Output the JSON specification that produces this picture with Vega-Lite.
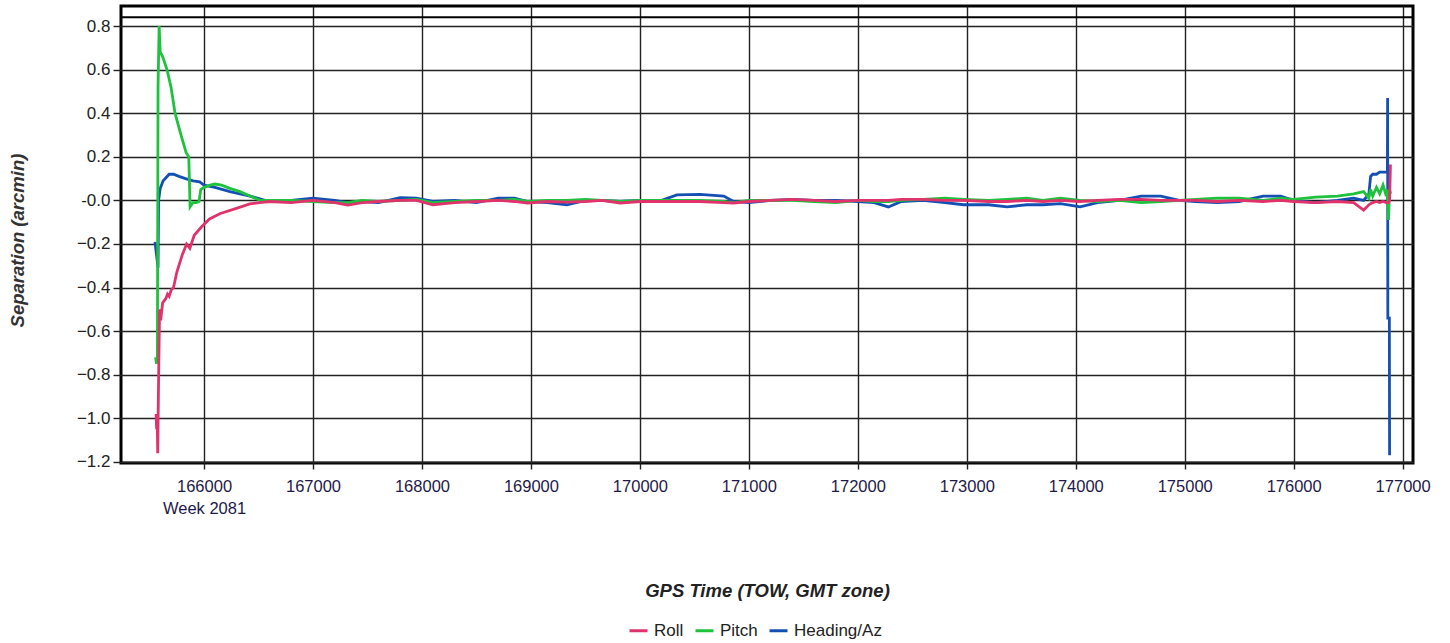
{
  "$schema": "https://vega.github.io/schema/vega-lite/v6.json",
  "width": 1292,
  "height": 457,
  "autosize": {"type": "none"},
  "padding": {"left": 121, "top": 6, "right": 37, "bottom": 180},
  "background": "white",
  "config": {
    "font": "Liberation Sans",
    "view": {"stroke": "#000", "strokeWidth": 3},
    "axis": {"gridColor": "#222", "gridWidth": 1.4, "gridOpacity": 1, "domain": false, "tickColor": "#222", "tickWidth": 1.4, "labelFont": "Liberation Sans"}
  },
  "datasets": {
    "roll": [
      {"t": 165560, "v": -0.98}, {"t": 165565, "v": -1.05}, {"t": 165570, "v": -1.0}, {"t": 165575, "v": -1.16},
      {"t": 165582, "v": -0.86}, {"t": 165592, "v": -0.5}, {"t": 165602, "v": -0.55}, {"t": 165620, "v": -0.47},
      {"t": 165650, "v": -0.45}, {"t": 165665, "v": -0.43}, {"t": 165680, "v": -0.44}, {"t": 165700, "v": -0.41},
      {"t": 165720, "v": -0.4}, {"t": 165750, "v": -0.33}, {"t": 165800, "v": -0.25}, {"t": 165840, "v": -0.2},
      {"t": 165870, "v": -0.22}, {"t": 165910, "v": -0.16}, {"t": 165980, "v": -0.12}, {"t": 166050, "v": -0.085},
      {"t": 166150, "v": -0.06}, {"t": 166290, "v": -0.038}, {"t": 166420, "v": -0.016}, {"t": 166510, "v": -0.01},
      {"t": 166600, "v": -0.005},
      {"t": 166800, "v": -0.01}, {"t": 167000, "v": 0.0}, {"t": 167200, "v": -0.01}, {"t": 167320, "v": -0.022},
      {"t": 167450, "v": -0.01}, {"t": 167600, "v": -0.005}, {"t": 167800, "v": 0.0}, {"t": 167950, "v": 0.0},
      {"t": 168100, "v": -0.02}, {"t": 168300, "v": -0.01}, {"t": 168500, "v": -0.005}, {"t": 168700, "v": 0.0},
      {"t": 168850, "v": -0.005}, {"t": 168970, "v": -0.012}, {"t": 169150, "v": -0.005}, {"t": 169330, "v": -0.008},
      {"t": 169500, "v": -0.005}, {"t": 169650, "v": 0.0}, {"t": 169820, "v": -0.012}, {"t": 170000, "v": -0.005},
      {"t": 170200, "v": -0.005}, {"t": 170340, "v": -0.005}, {"t": 170550, "v": -0.005}, {"t": 170770, "v": -0.01},
      {"t": 170860, "v": -0.012}, {"t": 171000, "v": -0.005}, {"t": 171200, "v": 0.0}, {"t": 171400, "v": 0.005},
      {"t": 171600, "v": 0.0}, {"t": 171800, "v": -0.005}, {"t": 172000, "v": 0.0}, {"t": 172150, "v": 0.0},
      {"t": 172280, "v": 0.0}, {"t": 172400, "v": 0.005}, {"t": 172600, "v": 0.005}, {"t": 172800, "v": 0.0},
      {"t": 172970, "v": 0.0}, {"t": 173200, "v": -0.005}, {"t": 173370, "v": -0.005}, {"t": 173550, "v": 0.0},
      {"t": 173700, "v": -0.005}, {"t": 173860, "v": 0.0}, {"t": 174040, "v": -0.005}, {"t": 174200, "v": 0.0},
      {"t": 174400, "v": 0.005}, {"t": 174600, "v": 0.005}, {"t": 174780, "v": 0.0}, {"t": 174950, "v": 0.0},
      {"t": 175100, "v": 0.0}, {"t": 175300, "v": -0.005}, {"t": 175500, "v": 0.0}, {"t": 175720, "v": -0.005},
      {"t": 175880, "v": 0.0}, {"t": 176000, "v": -0.005}, {"t": 176200, "v": -0.01}, {"t": 176400, "v": -0.005},
      {"t": 176550, "v": -0.01}, {"t": 176642, "v": -0.045}, {"t": 176690, "v": -0.02}, {"t": 176706, "v": -0.015},
      {"t": 176725, "v": -0.01}, {"t": 176760, "v": -0.005}, {"t": 176789, "v": -0.01}, {"t": 176820, "v": -0.005},
      {"t": 176850, "v": -0.01}, {"t": 176870, "v": -0.01}, {"t": 176880, "v": 0.0}, {"t": 176888, "v": 0.165}
    ],
    "pitch": [
      {"t": 165555, "v": -0.72}, {"t": 165565, "v": -0.75}, {"t": 165572, "v": -0.72}, {"t": 165578, "v": 0.52},
      {"t": 165588, "v": 0.8}, {"t": 165598, "v": 0.68}, {"t": 165620, "v": 0.66}, {"t": 165660, "v": 0.6},
      {"t": 165697, "v": 0.52}, {"t": 165734, "v": 0.4}, {"t": 165789, "v": 0.3}, {"t": 165835, "v": 0.22},
      {"t": 165860, "v": 0.2}, {"t": 165872, "v": -0.03}, {"t": 165899, "v": -0.01}, {"t": 165930, "v": -0.01},
      {"t": 165954, "v": -0.005}, {"t": 165970, "v": 0.05}, {"t": 166000, "v": 0.06}, {"t": 166055, "v": 0.07},
      {"t": 166100, "v": 0.075}, {"t": 166160, "v": 0.07}, {"t": 166238, "v": 0.055}, {"t": 166330, "v": 0.04},
      {"t": 166422, "v": 0.02}, {"t": 166514, "v": 0.0}, {"t": 166600, "v": 0.0},
      {"t": 166800, "v": 0.0}, {"t": 167000, "v": -0.005}, {"t": 167200, "v": -0.01}, {"t": 167320, "v": -0.01},
      {"t": 167450, "v": 0.0}, {"t": 167600, "v": -0.005}, {"t": 167800, "v": 0.0}, {"t": 167950, "v": 0.005},
      {"t": 168100, "v": -0.01}, {"t": 168300, "v": -0.005}, {"t": 168500, "v": 0.0}, {"t": 168700, "v": 0.0},
      {"t": 168850, "v": 0.005}, {"t": 168970, "v": -0.005}, {"t": 169150, "v": 0.0}, {"t": 169330, "v": 0.0},
      {"t": 169500, "v": 0.005}, {"t": 169650, "v": 0.0}, {"t": 169820, "v": -0.005}, {"t": 170000, "v": 0.0},
      {"t": 170200, "v": 0.0}, {"t": 170340, "v": 0.0}, {"t": 170550, "v": 0.0}, {"t": 170770, "v": -0.005},
      {"t": 170860, "v": -0.01}, {"t": 171000, "v": 0.0}, {"t": 171200, "v": 0.0}, {"t": 171400, "v": 0.0},
      {"t": 171600, "v": -0.005}, {"t": 171800, "v": -0.01}, {"t": 172000, "v": 0.0}, {"t": 172150, "v": -0.005},
      {"t": 172280, "v": -0.005}, {"t": 172400, "v": 0.0}, {"t": 172600, "v": 0.005}, {"t": 172800, "v": 0.01},
      {"t": 172970, "v": 0.005}, {"t": 173200, "v": 0.0}, {"t": 173370, "v": 0.005}, {"t": 173550, "v": 0.01},
      {"t": 173700, "v": 0.0}, {"t": 173860, "v": 0.01}, {"t": 174040, "v": 0.0}, {"t": 174200, "v": -0.005},
      {"t": 174400, "v": 0.0}, {"t": 174600, "v": -0.01}, {"t": 174780, "v": -0.005}, {"t": 174950, "v": 0.0},
      {"t": 175100, "v": 0.005}, {"t": 175300, "v": 0.01}, {"t": 175500, "v": 0.01}, {"t": 175720, "v": 0.0},
      {"t": 175880, "v": 0.01}, {"t": 176000, "v": 0.005}, {"t": 176200, "v": 0.015}, {"t": 176400, "v": 0.02},
      {"t": 176550, "v": 0.03}, {"t": 176642, "v": 0.04}, {"t": 176690, "v": 0.01}, {"t": 176706, "v": 0.05},
      {"t": 176725, "v": 0.02}, {"t": 176760, "v": 0.06}, {"t": 176789, "v": 0.03}, {"t": 176820, "v": 0.07},
      {"t": 176850, "v": 0.02}, {"t": 176860, "v": 0.05}, {"t": 176870, "v": -0.09}, {"t": 176880, "v": 0.05},
      {"t": 176890, "v": 0.03}
    ],
    "heading": [
      {"t": 165550, "v": -0.19}, {"t": 165578, "v": -0.31}, {"t": 165583, "v": 0.0}, {"t": 165598, "v": 0.055},
      {"t": 165625, "v": 0.09}, {"t": 165680, "v": 0.12}, {"t": 165720, "v": 0.12}, {"t": 165770, "v": 0.11},
      {"t": 165830, "v": 0.1}, {"t": 165900, "v": 0.09}, {"t": 165960, "v": 0.085}, {"t": 166000, "v": 0.07},
      {"t": 166100, "v": 0.06}, {"t": 166238, "v": 0.04}, {"t": 166422, "v": 0.02}, {"t": 166560, "v": 0.0},
      {"t": 166700, "v": 0.0},
      {"t": 166800, "v": 0.0}, {"t": 167000, "v": 0.01}, {"t": 167200, "v": 0.0}, {"t": 167320, "v": -0.01},
      {"t": 167450, "v": -0.005}, {"t": 167600, "v": -0.01}, {"t": 167800, "v": 0.012}, {"t": 167950, "v": 0.01},
      {"t": 168100, "v": -0.005}, {"t": 168300, "v": 0.0}, {"t": 168500, "v": -0.01}, {"t": 168700, "v": 0.01},
      {"t": 168850, "v": 0.01}, {"t": 168970, "v": -0.005}, {"t": 169150, "v": -0.01}, {"t": 169330, "v": -0.02},
      {"t": 169500, "v": 0.0}, {"t": 169650, "v": 0.0}, {"t": 169820, "v": -0.005}, {"t": 170000, "v": 0.0},
      {"t": 170200, "v": 0.0}, {"t": 170340, "v": 0.025}, {"t": 170550, "v": 0.028}, {"t": 170770, "v": 0.02},
      {"t": 170860, "v": -0.005}, {"t": 171000, "v": -0.01}, {"t": 171200, "v": 0.0}, {"t": 171400, "v": 0.005},
      {"t": 171600, "v": 0.0}, {"t": 171800, "v": 0.0}, {"t": 172000, "v": -0.005}, {"t": 172150, "v": -0.01},
      {"t": 172280, "v": -0.03}, {"t": 172400, "v": -0.005}, {"t": 172600, "v": 0.0}, {"t": 172800, "v": -0.01},
      {"t": 172970, "v": -0.02}, {"t": 173200, "v": -0.02}, {"t": 173370, "v": -0.03}, {"t": 173550, "v": -0.02},
      {"t": 173700, "v": -0.02}, {"t": 173860, "v": -0.015}, {"t": 174040, "v": -0.03}, {"t": 174200, "v": -0.01},
      {"t": 174400, "v": 0.0}, {"t": 174600, "v": 0.02}, {"t": 174780, "v": 0.02}, {"t": 174950, "v": 0.0},
      {"t": 175100, "v": -0.005}, {"t": 175300, "v": -0.01}, {"t": 175500, "v": -0.005}, {"t": 175720, "v": 0.02},
      {"t": 175880, "v": 0.02}, {"t": 176000, "v": 0.0}, {"t": 176200, "v": -0.01}, {"t": 176400, "v": 0.0},
      {"t": 176550, "v": 0.01}, {"t": 176642, "v": 0.0}, {"t": 176690, "v": 0.03}, {"t": 176706, "v": 0.11},
      {"t": 176725, "v": 0.12}, {"t": 176760, "v": 0.12}, {"t": 176789, "v": 0.13}, {"t": 176820, "v": 0.13},
      {"t": 176860, "v": 0.13}, {"t": 176862, "v": 0.47}, {"t": 176864, "v": -0.54}, {"t": 176878, "v": -0.54},
      {"t": 176880, "v": -1.17}
    ],
    "header": [{"y": 0.84}]
  },
  "encoding": {
    "x": {
      "field": "t", "type": "quantitative",
      "scale": {"domain": [165238, 177095], "nice": false, "zero": false},
      "axis": {
        "values": [166000, 167000, 168000, 169000, 170000, 171000, 172000, 173000, 174000, 175000, 176000, 177000],
        "format": "d",
        "labelExpr": "datum.value == 166000 ? ['166000', 'Week 2081'] : datum.label",
        "labelColor": "#1e1a48",
        "labelFontSize": 16.5,
        "tickSize": 6,
        "labelPadding": 9,
        "labelLineHeight": 22,
        "title": "GPS Time (TOW, GMT zone)",
        "titleFontSize": 18.5,
        "titleFontStyle": "italic",
        "titleFontWeight": "bold",
        "titleColor": "#222",
        "titleY": 118,
        "titleBaseline": "top"
      }
    },
    "y": {
      "field": "v", "type": "quantitative",
      "scale": {"domain": [-1.205, 0.892], "nice": false, "zero": false},
      "axis": {
        "values": [-1.2, -1.0, -0.8, -0.6, -0.4, -0.2, 0, 0.2, 0.4, 0.6, 0.8],
        "labelExpr": "datum.value == 0 ? '-0.0' : format(datum.value, '.1f')",
        "labelColor": "#222",
        "labelFontSize": 17,
        "tickSize": 8,
        "labelPadding": 3,
        "title": "Separation (arcmin)",
        "titleFontSize": 18.5,
        "titleFontStyle": "italic",
        "titleFontWeight": "bold",
        "titleColor": "#333",
        "titleAngle": -90,
        "titleX": -104,
        "titleY": 234,
        "titleAlign": "center",
        "titleBaseline": "middle"
      }
    }
  },
  "layer": [
    {
      "data": {"name": "heading"},
      "mark": {"type": "line", "strokeWidth": 2.8, "clip": true},
      "encoding": {"color": {"datum": "Heading/Az"}}
    },
    {
      "data": {"name": "pitch"},
      "mark": {"type": "line", "strokeWidth": 2.8, "clip": true},
      "encoding": {"color": {"datum": "Pitch"}}
    },
    {
      "data": {"name": "roll"},
      "mark": {"type": "line", "strokeWidth": 2.8, "clip": true},
      "encoding": {
        "color": {
          "datum": "Roll",
          "scale": {"domain": ["Roll", "Pitch", "Heading/Az"], "range": ["#e0336b", "#1ec23c", "#1450b4"]},
          "legend": {
            "title": null,
            "orient": "none",
            "direction": "horizontal",
            "legendX": 507,
            "legendY": 614,
            "symbolType": "stroke",
            "symbolStrokeWidth": 3,
            "symbolSize": 324,
            "labelOffset": 5,
            "labelFontSize": 17,
            "labelColor": "#222",
            "columnPadding": 5
          }
        }
      }
    },
    {
      "data": {"name": "header"},
      "mark": {"type": "rule", "color": "#000", "strokeWidth": 2},
      "encoding": {"y": {"field": "y", "type": "quantitative"}, "x": {"value": 0}, "x2": {"value": 1292}}
    }
  ]
}
